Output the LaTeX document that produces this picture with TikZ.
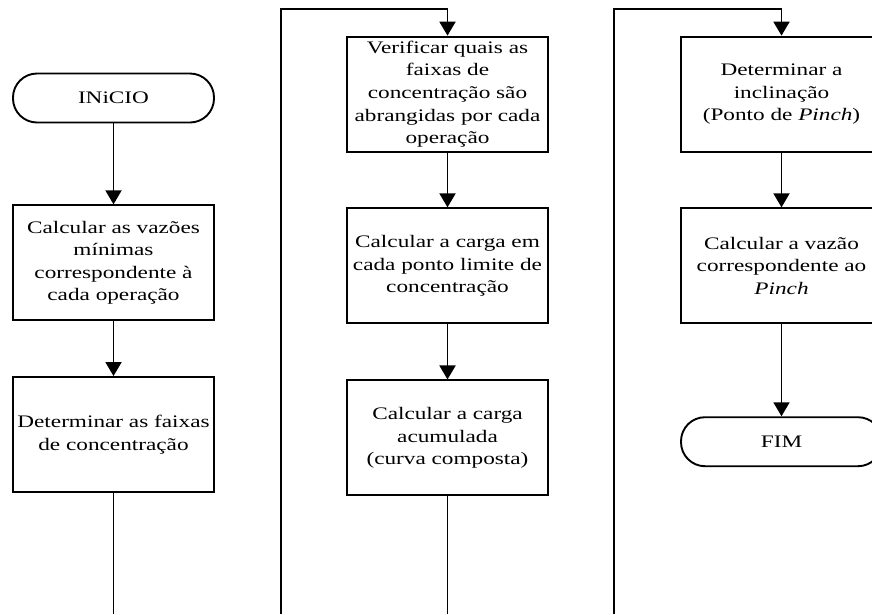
\documentclass[tikz,border=0pt]{standalone}
\usepackage{fontspec}
\setmainfont{Liberation Serif}[FakeStretch=1.32]
\usepackage{tikz}
\usetikzlibrary{positioning, arrows.meta, calc}

\begin{document}
\begin{tikzpicture}[
    x=1pt, y=-1pt,
    proc/.style={draw, line width=1.9pt, rectangle, minimum width=201pt, minimum height=115pt, inner sep=0pt, align=center, font=\fontsize{17.6}{22.6}\selectfont},
    term/.style={draw, line width=1.9pt, rectangle, rounded corners=24pt, minimum width=201pt, minimum height=49pt, inner sep=0pt, font=\fontsize{17.6}{22.6}\selectfont},
    flow/.style={-{Triangle[length=14pt, width=16pt]}, line width=1.9pt},
    wire/.style={line width=1.9pt}
]
    \useasboundingbox (0,0) rectangle (872,614);
    \clip (0,0) rectangle (872,614);

    % Column 1
    \node[term] (inicio) at (113.5,98) {INiCIO};
    \node[proc] (vazmin) at (113.5,262.8) {Calcular as vazões\\mínimas\\correspondente à\\cada operação};
    \node[proc] (faixas) at (113.5,434.5) {Determinar as faixas\\de concentração};

    % Column 2
    \node[proc] (verif) at (447.5,94.1) {Verificar quais as\\faixas de\\concentração são\\abrangidas por cada\\operação};
    \node[proc] (carga) at (447.5,265.8) {Calcular a carga em\\cada ponto limite de\\concentração};
    \node[proc] (acum) at (447.5,437.9) {Calcular a carga\\acumulada\\(curva composta)};

    % Column 3
    \node[proc] (incl) at (781.5,94.1) {Determinar a\\inclinação\\(Ponto de \textit{Pinch})};
    \node[proc] (vazpinch) at (781.5,265.8) {Calcular a vazão\\correspondente ao\\\textit{Pinch}};
    \node[term] (fim) at (781.5,441.7) {FIM};

    % Loose ends at the page edge
    \coordinate (out1) at (113.5,614);
    \coordinate (out2) at (447.5,614);
    \coordinate (in2) at (281,614);
    \coordinate (turn2) at (281,9.4);
    \coordinate (in3) at (614,614);
    \coordinate (turn3) at (614,9.4);

    % Arrows down each column
    \foreach \a/\b in {inicio/vazmin, vazmin/faixas, verif/carga, carga/acum, incl/vazpinch, vazpinch/fim}
        \draw[flow] (\a.south) -- (\b.north);

    \draw[wire] (faixas.south) -- (out1);
    \draw[wire] (acum.south) -- (out2);

    % Links coming up into the next column
    \draw[flow] (in2) -- (turn2) -| (verif.north);
    \draw[flow] (in3) -- (turn3) -| (incl.north);

\end{tikzpicture}
\end{document}
